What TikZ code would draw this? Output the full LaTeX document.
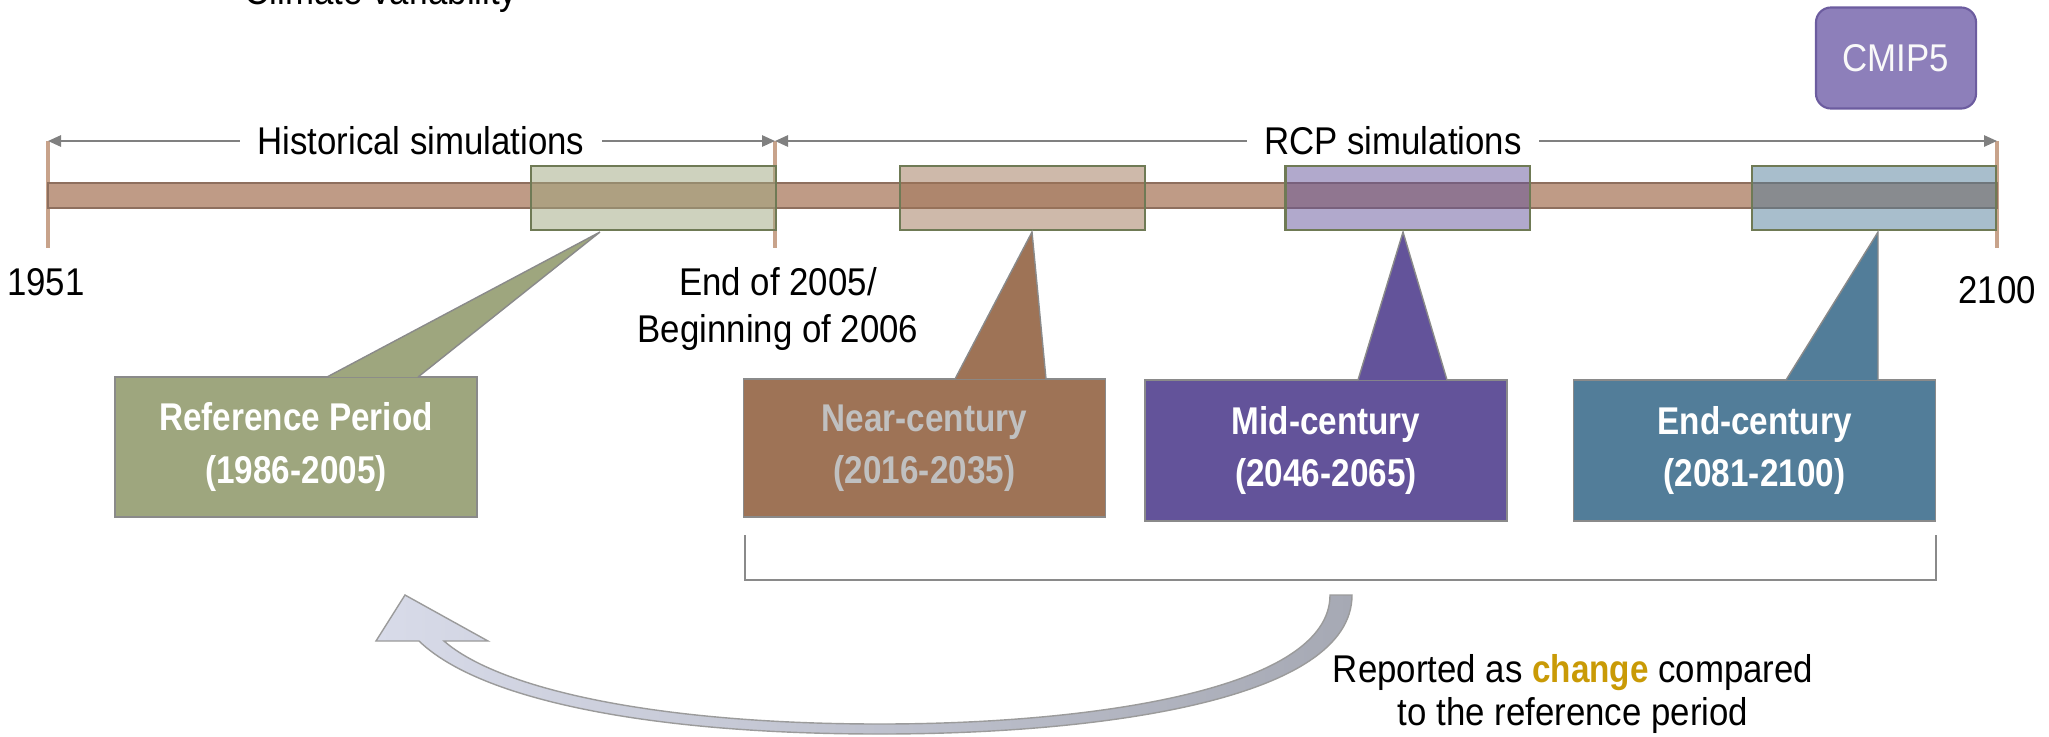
\documentclass[tikz,border=0pt]{standalone}
\usepackage{fontspec}
\setmainfont[FakeStretch=0.9, BoldFeatures={FakeStretch=0.86}]{Liberation Sans}
\usepackage{tikz}
\usetikzlibrary{arrows.meta, calc}

\definecolor{barfill}{HTML}{BF9B86}
\definecolor{barline}{HTML}{8E6F5E}
\definecolor{tickc}{HTML}{C8A38B}
\definecolor{spanc}{HTML}{808080}
\definecolor{periodedge}{HTML}{6F7A55}
\definecolor{calloutedge}{HTML}{8A8A8A}
\definecolor{refc}{HTML}{9EA67E}
\definecolor{nearc}{HTML}{9E7356}
\definecolor{midc}{HTML}{63539A}
\definecolor{endc}{HTML}{527D99}
\definecolor{neartext}{HTML}{C0C0C0}
\definecolor{cmipfill}{HTML}{8D7FBA}
\definecolor{cmipedge}{HTML}{6C5C9F}
\definecolor{changec}{HTML}{C99A06}
\definecolor{arrowlight}{HTML}{D8DBE9}
\definecolor{arrowdark}{HTML}{A6A9B4}
\definecolor{arrowedge}{HTML}{9B9B9B}

\begin{document}
\begin{tikzpicture}[
    x=0.01cm, y=-0.01cm,
    every node/.style={font=\fontsize{11}{13.4}\selectfont},
    tick/.style={draw=tickc, line width=1.2pt},
    span/.style={draw=spanc, line width=0.6pt, {Triangle[length=3.7pt,width=3.2pt]}-{Triangle[length=3.7pt,width=3.2pt]}},
    spanlbl/.style={fill=white, inner xsep=5pt, inner ysep=1pt},
    period/.style={rectangle, draw=periodedge, line width=0.6pt, fill opacity=0.5, minimum width=2.44cm, minimum height=0.64cm},
    callout/.style={rectangle, draw=calloutedge, line width=0.4pt, text=white, align=center, font=\fontsize{11}{14.8}\selectfont\bfseries, minimum width=3.62cm, minimum height=1.4cm},
    pointer/.style={draw=calloutedge, line width=0.4pt}
]
    \useasboundingbox (0,0) rectangle (2049,736);

    % top text, cut by the page
    \node[anchor=base] (clim) at (381,4) {Climate variability};

    % CMIP5 tag
    \node[rounded corners=0.15cm, draw=cmipedge, fill=cmipfill, line width=0.6pt, text=white!95!gray, minimum width=1.6cm, minimum height=1.01cm] (cmip) at (1896,58) {CMIP5};

    % Timeline
    \coordinate (y1951) at (48,141);
    \coordinate (y2005) at (775,141);
    \coordinate (y2100) at (1997,141);
    \draw[tick] (y1951) -- ++(0,107);
    \draw[tick] (y2005) -- ++(0,107);
    \draw[tick] (y2100) -- ++(0,107);
    \draw[draw=barline, fill=barfill, line width=0.5pt] (48,183) rectangle (1997,208);

    \draw[span] (y1951) -- (y2005);
    \draw[span] (y2005) -- (y2100);
    \node[spanlbl] (hist) at (421,141) {Historical simulations};
    \node[spanlbl] (rcp) at (1393,141) {RCP simulations};

    \node (l1951) at (46,282) {1951};
    \node (l2100) at (1997,290) {2100};
    \node[align=center] (l2005) at (778,309) {End of 2005/\\Beginning of 2006};

    % periods on the timeline
    \node[period, fill=refc] (rp_box) at (653.5,198) {};
    \node[period, fill=nearc] (nc_box) at (1022.5,198) {};
    \node[period, fill=midc] (mc_box) at (1407.5,198) {};
    \node[period, fill=endc] (ec_box) at (1874,198) {};

    % callouts
    \node[callout, fill=refc] (rp) at (296,447) {Reference Period\\(1986-2005)};
    \fill[refc] (327,377) -- (600,232) -- (418,377) -- cycle;
    \draw[pointer] (327,377) -- (600,232) -- (418,377);

    \node[callout, fill=nearc, text=neartext, minimum height=1.38cm] (nc) at (924.5,448) {Near-century\\(2016-2035)};
    \fill[nearc] (955,379) -- (1032,232) -- (1046,379) -- cycle;
    \draw[pointer] (955,379) -- (1032,232) -- (1046,379);

    \node[callout, fill=midc, minimum height=1.41cm] (mc) at (1326,450.5) {Mid-century\\(2046-2065)};
    \fill[midc] (1358,380) -- (1403,232) -- (1447,380) -- cycle;
    \draw[pointer] (1358,380) -- (1403,232) -- (1447,380);

    \node[callout, fill=endc, minimum height=1.41cm] (ec) at (1754.5,450.5) {End-century\\(2081-2100)};
    \fill[endc] (1786,380) -- (1878,232) -- (1878,380) -- cycle;
    \draw[pointer] (1786,380) -- (1878,232) -- (1878,380);

    % bracket under the future periods
    \draw[draw=calloutedge, line width=0.6pt] (745,535) -- (745,580) -- (1936,580) -- (1936,535);

    % curved arrow back to the reference period
    \shadedraw[left color=arrowlight, right color=arrowdark, draw=arrowedge, line width=0.4pt]
        (1330,595) -- (1352,595) .. controls (1352,700) and (1100,734) .. (880,734)
        .. controls (650,734) and (480,700) .. (419,641) -- (376,641) -- (405,595) -- (488,641) -- (444,641)
        .. controls (500,690) and (660,724) .. (880,724)
        .. controls (1090,724) and (1330,690) .. (1330,595) -- cycle;

    \node[align=center, font=\fontsize{11}{12.5}\selectfont] (report) at (1573,694) {Reported as \textcolor{changec}{\textbf{change}} compared\\to the reference period};
\end{tikzpicture}
\end{document}
